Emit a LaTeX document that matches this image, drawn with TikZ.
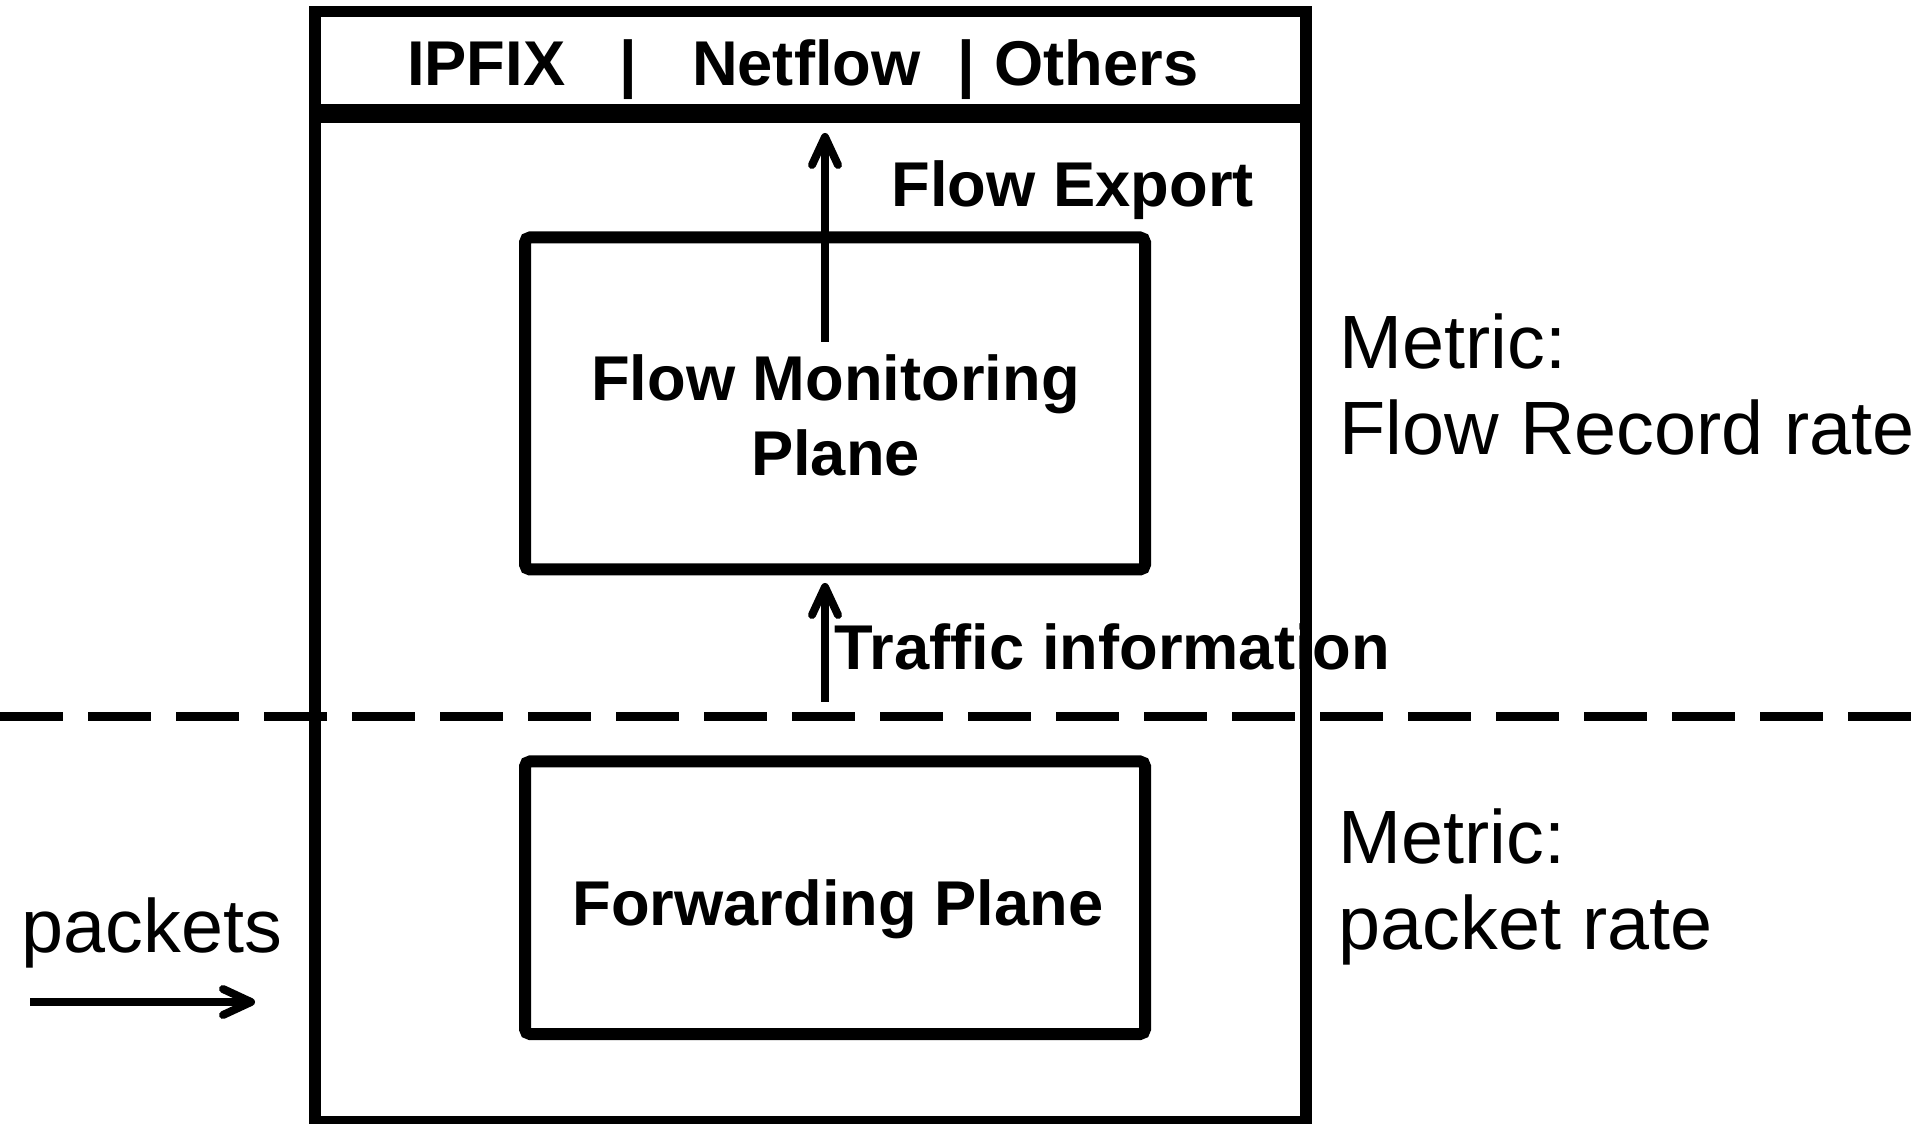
\documentclass[tikz,border=0pt]{standalone}
\usepackage{fontspec}
\setmainfont{Liberation Sans}
\usetikzlibrary{arrows.meta}

\begin{document}
\begin{tikzpicture}[
    box/.style={draw, line width=0.115cm, outer sep=0pt, inner sep=0pt, minimum width=9.91cm},
    plane/.style={draw, line width=0.12cm, rounded corners=0.05cm, outer sep=0pt, inner sep=0pt, minimum width=6.2cm},
    boldtext/.style={inner sep=0pt, font=\fontsize{18pt}{21.3pt}\selectfont\bfseries},
    metric/.style={inner sep=0pt, align=left, anchor=north west, font=\fontsize{21.5pt}{24.5pt}\selectfont},
    flowarrow/.style={line width=0.08cm, -{Straight Barb[length=2.8mm,width=2.6mm,round]}}
  ]
       \useasboundingbox (0,0) rectangle (19.15,11.23);
       % labels (drawn first, the box edge runs over them)
       \node[boldtext, anchor=base west] (exportText) at (8.91,9.16) {Flow Export};
       \node[boldtext, anchor=base west] (trafficText) at (8.34,4.53) {Traffic information};
       \node[boldtext, align=center] (monitorText) at (8.355,7.075) {Flow Monitoring\\Plane};
       \node[boldtext, anchor=base] (forwardText) at (8.38,1.98) {Forwarding Plane};
       \node[metric] (metricFlow) at (13.39,8.10) {Metric:\\Flow Record rate};
       \node[metric] (metricPacket) at (13.38,3.15) {Metric:\\packet rate};
       \node[inner sep=0pt, anchor=base west, font=\fontsize{21.5pt}{24.5pt}\selectfont] (packetText) at (0.21,1.71) {packets};
       % router and its planes
       \node[box, minimum height=0.985cm] (header) at (8.105,10.6225) {};
       \node[boldtext, anchor=base west] (protocols) at (4.065,10.37) {IPFIX\hspace{0.54cm}|\hspace{0.55cm}Netflow\hspace{0.37cm}|\hspace{0.19cm}Others};
       \node[box, minimum height=10.05cm] (router) at (8.105,5.035) {};
       \node[plane, minimum height=3.32cm] (monitor) at (8.35,7.195) {};
       \node[plane, minimum height=2.725cm] (forward) at (8.35,2.2525) {};
       % control / data boundary
       \draw[line width=0.085cm, dash pattern=on 0.63cm off 0.25cm] (0,4.065) -- (19.15,4.065);
       % arrows
       \coordinate (exportOut) at (8.25,7.81);
       \coordinate (trafficIn) at (8.25,4.21);
       \coordinate (packetIn) at (0.30,1.21);
       \coordinate (packetOut) at (2.55,1.21);
       \draw[flowarrow, shorten >=0.16cm] (exportOut) -- (exportOut |- router.north);
       \draw[flowarrow, shorten >=0.135cm] (trafficIn) -- (trafficIn |- monitor.south);
       \draw[flowarrow] (packetIn) -- (packetOut);
\end{tikzpicture}
\end{document}
